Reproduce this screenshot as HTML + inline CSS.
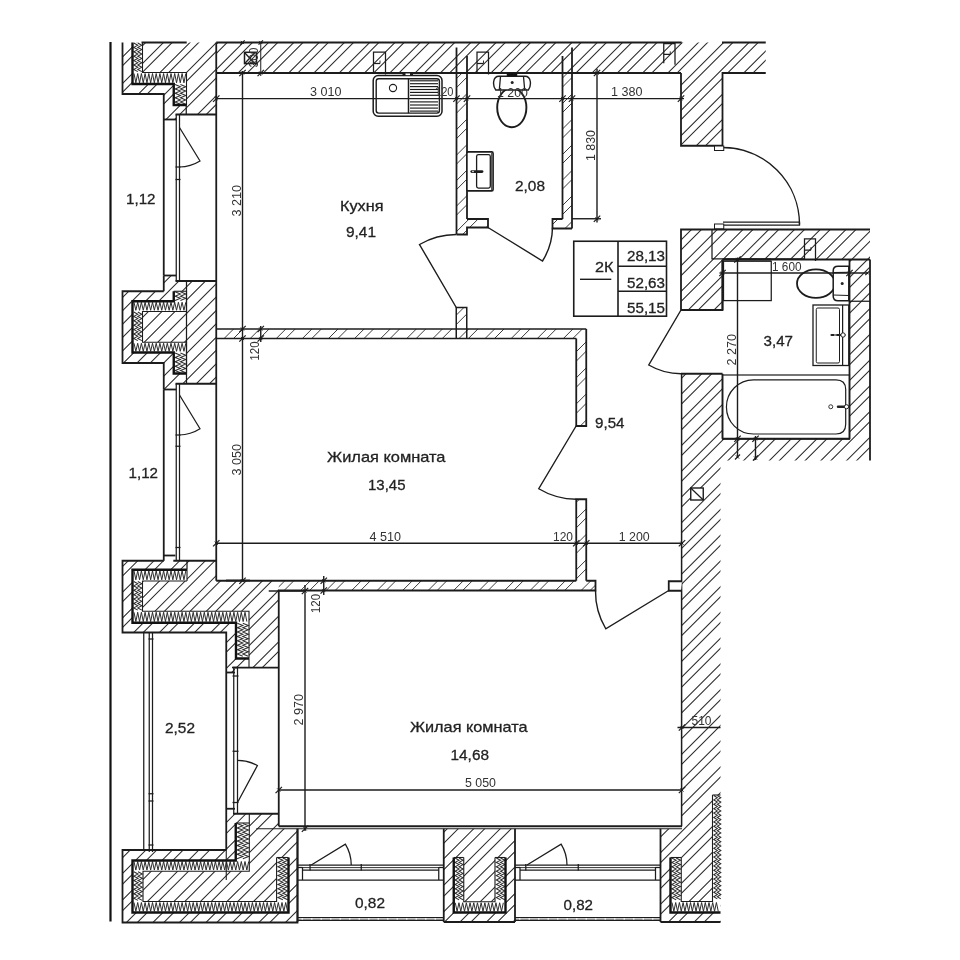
<!DOCTYPE html>
<html lang="ru"><head><meta charset="utf-8"><title>План квартиры</title>
<style>
html,body{margin:0;padding:0;background:#fff;}
body{width:960px;height:960px;overflow:hidden;font-family:"Liberation Sans",sans-serif;}
svg{display:block;font-family:"Liberation Sans",sans-serif;filter:grayscale(1);}
</style></head><body>
<svg width="960" height="960" viewBox="0 0 960 960">
<defs>
<clipPath id="c1"><polygon points="122.5,42.5 216.25,42.5 216.25,114.5 176,114.5 176,119.5 163.75,119.5 163.75,94 122.5,94"/></clipPath>
<clipPath id="c2"><polygon points="122.5,291.25 163.75,291.25 163.75,275.5 176,275.5 176,281 216.25,281 216.25,383.75 176,383.75 176,389.5 163.75,389.5 163.75,363 122.5,363"/></clipPath>
<clipPath id="c3"><polygon points="122.5,560.75 216.25,560.75 216.25,580.75 278.75,580.75 278.75,668 235,668 235,672.5 226.25,672.5 226.25,632.5 122.5,632.5"/></clipPath>
<clipPath id="c4"><polygon points="122.5,850 226.25,850 226.25,808.75 235,808.75 235,813.75 278.75,813.75 278.75,828.75 297.5,828.75 297.5,922.5 122.5,922.5"/></clipPath>
<clipPath id="c5"><polygon points="443.75,828.75 515,828.75 515,922 443.75,922"/></clipPath>
<clipPath id="c6"><polygon points="681,229.5 870,229.5 870,460.5 720.5,460.5 720.5,922 660.5,922 660.5,828.75 682,828.75 682,373.75 722.5,373.75 722.5,438.75 849.5,438.75 849.5,259.5 722.5,259.5 722.5,310 681,310"/></clipPath>
<clipPath id="c7"><polygon points="216.25,42.5 765.75,42.5 765.75,73 722.5,73 722.5,145.75 681,145.75 681,73 216.25,73"/></clipPath>
<clipPath id="c8"><polygon points="456.5,73 467,73 467,219 488,219 488,227.5 467,227.5 467,234.5 456.5,234.5"/></clipPath>
<clipPath id="c9"><polygon points="562.5,73 572,73 572,228.5 552.5,228.5 552.5,219 562.5,219"/></clipPath>
<clipPath id="c10"><polygon points="216.25,329 586.25,329 586.25,426 576.25,426 576.25,338.5 216.25,338.5"/></clipPath>
<clipPath id="c11"><polygon points="456.25,307.5 466.75,307.5 466.75,329 456.25,329"/></clipPath>
<clipPath id="c12"><polygon points="576.25,499.25 586.25,499.25 586.25,580.75 595.5,580.75 595.5,590.5 278.75,590.5 278.75,580.75 576.25,580.75"/></clipPath>
</defs>
<rect x="0" y="0" width="960" height="960" fill="#fff"/>
<path clip-path="url(#c1)" d="M59 120.5L138 41.5M67.7 120.5L146.7 41.5M85.5 120.5L164.5 41.5M94.2 120.5L173.2 41.5M112 120.5L191 41.5M120.7 120.5L199.7 41.5M138.5 120.5L217.5 41.5M147.2 120.5L226.2 41.5M165 120.5L244 41.5M173.7 120.5L252.7 41.5M191.5 120.5L270.5 41.5M200.2 120.5L279.2 41.5" fill="none" stroke="#2a2a2a" stroke-width="1.05"/>
<path clip-path="url(#c2)" d="M16.05 390.5L132.05 274.5M29.55 390.5L145.55 274.5M42.72 390.5L158.72 274.5M56.22 390.5L172.22 274.5M69.39 390.5L185.39 274.5M82.89 390.5L198.89 274.5M96.06 390.5L212.06 274.5M109.56 390.5L225.56 274.5M122.73 390.5L238.73 274.5M136.23 390.5L252.23 274.5M149.4 390.5L265.4 274.5M162.9 390.5L278.9 274.5M176.07 390.5L292.07 274.5M189.57 390.5L305.57 274.5M202.74 390.5L318.74 274.5" fill="none" stroke="#2a2a2a" stroke-width="1.05"/>
<path clip-path="url(#c3)" d="M15.6 673.5L129.35 559.75M25.1 673.5L138.85 559.75M41.3 673.5L155.05 559.75M50.8 673.5L164.55 559.75M67 673.5L180.75 559.75M76.5 673.5L190.25 559.75M92.7 673.5L206.45 559.75M102.2 673.5L215.95 559.75M118.4 673.5L232.15 559.75M127.9 673.5L241.65 559.75M144.1 673.5L257.85 559.75M153.6 673.5L267.35 559.75M169.8 673.5L283.55 559.75M179.3 673.5L293.05 559.75M195.5 673.5L309.25 559.75M205 673.5L318.75 559.75M221.2 673.5L334.95 559.75M230.7 673.5L344.45 559.75M246.9 673.5L360.65 559.75M256.4 673.5L370.15 559.75M272.6 673.5L386.35 559.75" fill="none" stroke="#2a2a2a" stroke-width="1.05"/>
<path clip-path="url(#c4)" d="M19.4 923.5L135.15 807.75M30.3 923.5L146.05 807.75M45.9 923.5L161.65 807.75M56.8 923.5L172.55 807.75M72.4 923.5L188.15 807.75M83.3 923.5L199.05 807.75M98.9 923.5L214.65 807.75M109.8 923.5L225.55 807.75M125.4 923.5L241.15 807.75M136.3 923.5L252.05 807.75M151.9 923.5L267.65 807.75M162.8 923.5L278.55 807.75M178.4 923.5L294.15 807.75M189.3 923.5L305.05 807.75M204.9 923.5L320.65 807.75M215.8 923.5L331.55 807.75M231.4 923.5L347.15 807.75M242.3 923.5L358.05 807.75M257.9 923.5L373.65 807.75M268.8 923.5L384.55 807.75M284.4 923.5L400.15 807.75M295.3 923.5L411.05 807.75" fill="none" stroke="#2a2a2a" stroke-width="1.05"/>
<path clip-path="url(#c5)" d="M353 923L448.25 827.75M364 923L459.25 827.75M379.5 923L474.75 827.75M390.5 923L485.75 827.75M406 923L501.25 827.75M417 923L512.25 827.75M432.5 923L527.75 827.75M443.5 923L538.75 827.75M459 923L554.25 827.75M470 923L565.25 827.75M485.5 923L580.75 827.75M496.5 923L591.75 827.75M512 923L607.25 827.75" fill="none" stroke="#2a2a2a" stroke-width="1.05"/>
<path clip-path="url(#c6)" d="M-27.75 923L666.75 228.5M-17.75 923L676.75 228.5M-2 923L692.5 228.5M8 923L702.5 228.5M23.75 923L718.25 228.5M33.75 923L728.25 228.5M49.5 923L744 228.5M59.5 923L754 228.5M75.25 923L769.75 228.5M85.25 923L779.75 228.5M101 923L795.5 228.5M111 923L805.5 228.5M126.75 923L821.25 228.5M136.75 923L831.25 228.5M152.5 923L847 228.5M162.5 923L857 228.5M178.25 923L872.75 228.5M188.25 923L882.75 228.5M204 923L898.5 228.5M214 923L908.5 228.5M229.75 923L924.25 228.5M239.75 923L934.25 228.5M255.5 923L950 228.5M265.5 923L960 228.5M281.25 923L975.75 228.5M291.25 923L985.75 228.5M307 923L1001.5 228.5M317 923L1011.5 228.5M332.75 923L1027.25 228.5M342.75 923L1037.25 228.5M358.5 923L1053 228.5M368.5 923L1063 228.5M384.25 923L1078.75 228.5M394.25 923L1088.75 228.5M410 923L1104.5 228.5M420 923L1114.5 228.5M435.75 923L1130.25 228.5M445.75 923L1140.25 228.5M461.5 923L1156 228.5M471.5 923L1166 228.5M487.25 923L1181.75 228.5M497.25 923L1191.75 228.5M513 923L1207.5 228.5M523 923L1217.5 228.5M538.75 923L1233.25 228.5M548.75 923L1243.25 228.5M564.5 923L1259 228.5M574.5 923L1269 228.5M590.25 923L1284.75 228.5M600.25 923L1294.75 228.5M616 923L1310.5 228.5M626 923L1320.5 228.5M641.75 923L1336.25 228.5M651.75 923L1346.25 228.5M667.5 923L1362 228.5M677.5 923L1372 228.5M693.25 923L1387.75 228.5M703.25 923L1397.75 228.5M719 923L1413.5 228.5M729 923L1423.5 228.5M744.75 923L1439.25 228.5M754.75 923L1449.25 228.5M770.5 923L1465 228.5M780.5 923L1475 228.5M796.25 923L1490.75 228.5M806.25 923L1500.75 228.5M822 923L1516.5 228.5M832 923L1526.5 228.5M847.75 923L1542.25 228.5M857.75 923L1552.25 228.5" fill="none" stroke="#2a2a2a" stroke-width="1.05"/>
<path clip-path="url(#c7)" d="M113.72 146.75L218.97 41.5M122.92 146.75L228.17 41.5M139 146.75L244.25 41.5M148.2 146.75L253.45 41.5M164.29 146.75L269.54 41.5M173.49 146.75L278.74 41.5M189.57 146.75L294.82 41.5M198.77 146.75L304.02 41.5M214.86 146.75L320.11 41.5M224.06 146.75L329.31 41.5M240.14 146.75L345.39 41.5M249.34 146.75L354.59 41.5M265.43 146.75L370.68 41.5M274.63 146.75L379.88 41.5M290.72 146.75L395.97 41.5M299.92 146.75L405.17 41.5M316 146.75L421.25 41.5M325.2 146.75L430.45 41.5M341.29 146.75L446.54 41.5M350.49 146.75L455.74 41.5M366.57 146.75L471.82 41.5M375.77 146.75L481.02 41.5M391.86 146.75L497.11 41.5M401.06 146.75L506.31 41.5M417.14 146.75L522.39 41.5M426.34 146.75L531.59 41.5M442.42 146.75L547.67 41.5M451.62 146.75L556.88 41.5M467.71 146.75L572.96 41.5M476.91 146.75L582.16 41.5M493 146.75L598.25 41.5M502.2 146.75L607.45 41.5M518.28 146.75L623.53 41.5M527.48 146.75L632.73 41.5M543.57 146.75L648.82 41.5M552.77 146.75L658.02 41.5M568.85 146.75L674.1 41.5M578.05 146.75L683.3 41.5M594.13 146.75L699.38 41.5M603.34 146.75L708.59 41.5M619.42 146.75L724.67 41.5M628.62 146.75L733.87 41.5M644.71 146.75L749.96 41.5M653.91 146.75L759.16 41.5M669.99 146.75L775.24 41.5M679.19 146.75L784.44 41.5M695.27 146.75L800.52 41.5M704.48 146.75L809.73 41.5M720.56 146.75L825.81 41.5M729.76 146.75L835.01 41.5M745.85 146.75L851.1 41.5M755.05 146.75L860.3 41.5" fill="none" stroke="#2a2a2a" stroke-width="1.05"/>
<path clip-path="url(#c8)" d="M299.6 235.5L463.1 72M308.6 235.5L472.1 72M325.1 235.5L488.6 72M334.1 235.5L497.6 72M350.6 235.5L514.1 72M359.6 235.5L523.1 72M376.1 235.5L539.6 72M385.1 235.5L548.6 72M401.6 235.5L565.1 72M410.6 235.5L574.1 72M427.1 235.5L590.6 72M436.1 235.5L599.6 72M452.6 235.5L616.1 72M461.6 235.5L625.1 72M478.1 235.5L641.6 72" fill="none" stroke="#333" stroke-width="0.95"/>
<path clip-path="url(#c9)" d="M411 229.5L568.5 72M420 229.5L577.5 72M436.5 229.5L594 72M445.5 229.5L603 72M462 229.5L619.5 72M471 229.5L628.5 72M487.5 229.5L645 72M496.5 229.5L654 72M513 229.5L670.5 72M522 229.5L679.5 72M538.5 229.5L696 72M547.5 229.5L705 72M564 229.5L721.5 72" fill="none" stroke="#333" stroke-width="0.95"/>
<path clip-path="url(#c10)" d="M118.9 427L217.9 328M135.6 427L234.6 328M145 427L244 328M161.7 427L260.7 328M171.1 427L270.1 328M187.8 427L286.8 328M197.2 427L296.2 328M213.9 427L312.9 328M223.3 427L322.3 328M240 427L339 328M249.4 427L348.4 328M266.1 427L365.1 328M275.5 427L374.5 328M292.2 427L391.2 328M301.6 427L400.6 328M318.3 427L417.3 328M327.7 427L426.7 328M344.4 427L443.4 328M353.8 427L452.8 328M370.5 427L469.5 328M379.9 427L478.9 328M396.6 427L495.6 328M406 427L505 328M422.7 427L521.7 328M432.1 427L531.1 328M448.8 427L547.8 328M458.2 427L557.2 328M474.9 427L573.9 328M484.3 427L583.3 328M501 427L600 328M510.4 427L609.4 328M527.1 427L626.1 328M536.5 427L635.5 328M553.2 427L652.2 328M562.6 427L661.6 328M579.3 427L678.3 328" fill="none" stroke="#333" stroke-width="0.95"/>
<path clip-path="url(#c11)" d="M441.4 330L464.9 306.5M450.8 330L474.3 306.5" fill="none" stroke="#333" stroke-width="0.95"/>
<path clip-path="url(#c12)" d="M197.6 591.5L290.85 498.25M206.6 591.5L299.85 498.25M223.1 591.5L316.35 498.25M232.1 591.5L325.35 498.25M248.6 591.5L341.85 498.25M257.6 591.5L350.85 498.25M274.1 591.5L367.35 498.25M283.1 591.5L376.35 498.25M299.6 591.5L392.85 498.25M308.6 591.5L401.85 498.25M325.1 591.5L418.35 498.25M334.1 591.5L427.35 498.25M350.6 591.5L443.85 498.25M359.6 591.5L452.85 498.25M376.1 591.5L469.35 498.25M385.1 591.5L478.35 498.25M401.6 591.5L494.85 498.25M410.6 591.5L503.85 498.25M427.1 591.5L520.35 498.25M436.1 591.5L529.35 498.25M452.6 591.5L545.85 498.25M461.6 591.5L554.85 498.25M478.1 591.5L571.35 498.25M487.1 591.5L580.35 498.25M503.6 591.5L596.85 498.25M512.6 591.5L605.85 498.25M529.1 591.5L622.35 498.25M538.1 591.5L631.35 498.25M554.6 591.5L647.85 498.25M563.6 591.5L656.85 498.25M580.1 591.5L673.35 498.25M589.1 591.5L682.35 498.25" fill="none" stroke="#333" stroke-width="0.95"/>
<polygon points="132.5,42.5 132.5,84 173.75,84 173.75,105 186.5,105 186.5,105 186.5,72.5 142.5,72.5 142.5,42.5" fill="#fff" stroke="none" stroke-width="0" stroke-linejoin="miter"/>
<polyline points="134,73.5 135.85,82.8 137.7,73.5 139.55,82.8 141.4,73.5 143.25,82.8 145.1,73.5 146.95,82.8 148.8,73.5 150.65,82.8 152.5,73.5 154.35,82.8 156.2,73.5 158.05,82.8 159.9,73.5 161.75,82.8 163.6,73.5 165.45,82.8 167.3,73.5 169.15,82.8 171,73.5 172.85,82.8 174.7,73.5 176.55,82.8 178.4,73.5 180.25,82.8 182.1,73.5 183.95,82.8 185.8,73.5" fill="none" stroke="#2e2e2e" stroke-width="1" stroke-linejoin="miter"/>
<polyline points="133.8,43 137.8,45.2 133.8,47.4 137.8,49.6 133.8,51.8 137.8,54 133.8,56.2 137.8,58.4 133.8,60.6 137.8,62.8 133.8,65 137.8,67.2 133.8,69.4 137.8,71.6" fill="none" stroke="#2e2e2e" stroke-width="1.05" stroke-linejoin="miter"/>
<polyline points="137.8,43 141.8,45.2 137.8,47.4 141.8,49.6 137.8,51.8 141.8,54 137.8,56.2 141.8,58.4 137.8,60.6 141.8,62.8 137.8,65 141.8,67.2 137.8,69.4 141.8,71.6" fill="none" stroke="#2e2e2e" stroke-width="1.05" stroke-linejoin="miter"/>
<polyline points="175.05,84.5 180.43,86.7 175.05,88.9 180.43,91.1 175.05,93.3 180.43,95.5 175.05,97.7 180.43,99.9 175.05,102.1 180.43,104.3" fill="none" stroke="#2e2e2e" stroke-width="1.05" stroke-linejoin="miter"/>
<polyline points="180.43,84.5 185.8,86.7 180.43,88.9 185.8,91.1 180.43,93.3 185.8,95.5 180.43,97.7 185.8,99.9 180.43,102.1 185.8,104.3" fill="none" stroke="#2e2e2e" stroke-width="1.05" stroke-linejoin="miter"/>
<polyline points="142.5,42.5 142.5,72.5 186.5,72.5 186.5,105" fill="none" stroke="#1c1c1c" stroke-width="1.1" stroke-linejoin="miter"/>
<polyline points="132.5,42.5 132.5,84 173.75,84 173.75,105 186.5,105" fill="none" stroke="#111" stroke-width="2.4" stroke-linejoin="miter"/>
<polygon points="173.75,291.25 173.75,301.25 132.5,301.25 132.5,352.5 173.75,352.5 173.75,373.5 186.5,373.5 186.5,373.5 186.5,342.25 142.5,342.25 142.5,311.5 186.5,311.5 186.5,291.25" fill="#fff" stroke="none" stroke-width="0" stroke-linejoin="miter"/>
<polyline points="134,302.25 135.85,310.3 137.7,302.25 139.55,310.3 141.4,302.25 143.25,310.3 145.1,302.25 146.95,310.3 148.8,302.25 150.65,310.3 152.5,302.25 154.35,310.3 156.2,302.25 158.05,310.3 159.9,302.25 161.75,310.3 163.6,302.25 165.45,310.3 167.3,302.25 169.15,310.3 171,302.25 172.85,310.3 174.7,302.25 176.55,310.3 178.4,302.25 180.25,310.3 182.1,302.25 183.95,310.3 185.8,302.25" fill="none" stroke="#2e2e2e" stroke-width="1" stroke-linejoin="miter"/>
<polyline points="134,343.25 135.85,351.3 137.7,343.25 139.55,351.3 141.4,343.25 143.25,351.3 145.1,343.25 146.95,351.3 148.8,343.25 150.65,351.3 152.5,343.25 154.35,351.3 156.2,343.25 158.05,351.3 159.9,343.25 161.75,351.3 163.6,343.25 165.45,351.3 167.3,343.25 169.15,351.3 171,343.25 172.85,351.3 174.7,343.25 176.55,351.3 178.4,343.25 180.25,351.3 182.1,343.25 183.95,351.3 185.8,343.25" fill="none" stroke="#2e2e2e" stroke-width="1" stroke-linejoin="miter"/>
<polyline points="175.05,291.75 180.43,293.95 175.05,296.15 180.43,298.35 175.05,300.55" fill="none" stroke="#2e2e2e" stroke-width="1.05" stroke-linejoin="miter"/>
<polyline points="180.43,291.75 185.8,293.95 180.43,296.15 185.8,298.35 180.43,300.55" fill="none" stroke="#2e2e2e" stroke-width="1.05" stroke-linejoin="miter"/>
<polyline points="133.8,312 137.8,314.2 133.8,316.4 137.8,318.6 133.8,320.8 137.8,323 133.8,325.2 137.8,327.4 133.8,329.6 137.8,331.8 133.8,334 137.8,336.2 133.8,338.4 137.8,340.6" fill="none" stroke="#2e2e2e" stroke-width="1.05" stroke-linejoin="miter"/>
<polyline points="137.8,312 141.8,314.2 137.8,316.4 141.8,318.6 137.8,320.8 141.8,323 137.8,325.2 141.8,327.4 137.8,329.6 141.8,331.8 137.8,334 141.8,336.2 137.8,338.4 141.8,340.6" fill="none" stroke="#2e2e2e" stroke-width="1.05" stroke-linejoin="miter"/>
<polyline points="175.05,353 180.43,355.2 175.05,357.4 180.43,359.6 175.05,361.8 180.43,364 175.05,366.2 180.43,368.4 175.05,370.6 180.43,372.8" fill="none" stroke="#2e2e2e" stroke-width="1.05" stroke-linejoin="miter"/>
<polyline points="180.43,353 185.8,355.2 180.43,357.4 185.8,359.6 180.43,361.8 185.8,364 180.43,366.2 185.8,368.4 180.43,370.6 185.8,372.8" fill="none" stroke="#2e2e2e" stroke-width="1.05" stroke-linejoin="miter"/>
<polyline points="186.5,291.25 186.5,311.5 142.5,311.5 142.5,342.25 186.5,342.25 186.5,373.5" fill="none" stroke="#1c1c1c" stroke-width="1.1" stroke-linejoin="miter"/>
<polyline points="173.75,291.25 173.75,301.25 132.5,301.25 132.5,352.5 173.75,352.5 173.75,373.5 186.5,373.5" fill="none" stroke="#111" stroke-width="2.4" stroke-linejoin="miter"/>
<line x1="173.75" y1="291.25" x2="186.5" y2="291.25" stroke="#1c1c1c" stroke-width="1.1" stroke-linecap="butt"/>
<polygon points="187,569.75 132.5,569.75 132.5,622.75 236,622.75 236,658.5 249,658.5 249,658.5 249,611.25 142.5,611.25 142.5,581 187,581" fill="#fff" stroke="none" stroke-width="0" stroke-linejoin="miter"/>
<polyline points="134,570.75 135.85,579.8 137.7,570.75 139.55,579.8 141.4,570.75 143.25,579.8 145.1,570.75 146.95,579.8 148.8,570.75 150.65,579.8 152.5,570.75 154.35,579.8 156.2,570.75 158.05,579.8 159.9,570.75 161.75,579.8 163.6,570.75 165.45,579.8 167.3,570.75 169.15,579.8 171,570.75 172.85,579.8 174.7,570.75 176.55,579.8 178.4,570.75 180.25,579.8 182.1,570.75 183.95,579.8 185.8,570.75" fill="none" stroke="#2e2e2e" stroke-width="1" stroke-linejoin="miter"/>
<polyline points="134,612.25 135.85,621.55 137.7,612.25 139.55,621.55 141.4,612.25 143.25,621.55 145.1,612.25 146.95,621.55 148.8,612.25 150.65,621.55 152.5,612.25 154.35,621.55 156.2,612.25 158.05,621.55 159.9,612.25 161.75,621.55 163.6,612.25 165.45,621.55 167.3,612.25 169.15,621.55 171,612.25 172.85,621.55 174.7,612.25 176.55,621.55 178.4,612.25 180.25,621.55 182.1,612.25 183.95,621.55 185.8,612.25 187.65,621.55 189.5,612.25 191.35,621.55 193.2,612.25 195.05,621.55 196.9,612.25 198.75,621.55 200.6,612.25 202.45,621.55 204.3,612.25 206.15,621.55 208,612.25 209.85,621.55 211.7,612.25 213.55,621.55 215.4,612.25 217.25,621.55 219.1,612.25 220.95,621.55 222.8,612.25 224.65,621.55 226.5,612.25 228.35,621.55 230.2,612.25 232.05,621.55 233.9,612.25 235.75,621.55 237.6,612.25 239.45,621.55 241.3,612.25 243.15,621.55 245,612.25 246.85,621.55" fill="none" stroke="#2e2e2e" stroke-width="1" stroke-linejoin="miter"/>
<polyline points="133.8,581.5 137.8,583.7 133.8,585.9 137.8,588.1 133.8,590.3 137.8,592.5 133.8,594.7 137.8,596.9 133.8,599.1 137.8,601.3 133.8,603.5 137.8,605.7 133.8,607.9 137.8,610.1" fill="none" stroke="#2e2e2e" stroke-width="1.05" stroke-linejoin="miter"/>
<polyline points="137.8,581.5 141.8,583.7 137.8,585.9 141.8,588.1 137.8,590.3 141.8,592.5 137.8,594.7 141.8,596.9 137.8,599.1 141.8,601.3 137.8,603.5 141.8,605.7 137.8,607.9 141.8,610.1" fill="none" stroke="#2e2e2e" stroke-width="1.05" stroke-linejoin="miter"/>
<polyline points="237.3,623.25 242.8,625.45 237.3,627.65 242.8,629.85 237.3,632.05 242.8,634.25 237.3,636.45 242.8,638.65 237.3,640.85 242.8,643.05 237.3,645.25 242.8,647.45 237.3,649.65 242.8,651.85 237.3,654.05 242.8,656.25" fill="none" stroke="#2e2e2e" stroke-width="1.05" stroke-linejoin="miter"/>
<polyline points="242.8,623.25 248.3,625.45 242.8,627.65 248.3,629.85 242.8,632.05 248.3,634.25 242.8,636.45 248.3,638.65 242.8,640.85 248.3,643.05 242.8,645.25 248.3,647.45 242.8,649.65 248.3,651.85 242.8,654.05 248.3,656.25" fill="none" stroke="#2e2e2e" stroke-width="1.05" stroke-linejoin="miter"/>
<polyline points="187,581 142.5,581 142.5,611.25 249,611.25 249,658.5" fill="none" stroke="#1c1c1c" stroke-width="1.1" stroke-linejoin="miter"/>
<polyline points="187,569.75 132.5,569.75 132.5,622.75 236,622.75 236,658.5 249,658.5" fill="none" stroke="#111" stroke-width="2.4" stroke-linejoin="miter"/>
<line x1="187" y1="569.75" x2="187" y2="581" stroke="#1c1c1c" stroke-width="1.1" stroke-linecap="butt"/>
<polygon points="235.75,823 235.75,860.5 132.5,860.5 132.5,912.5 288.5,912.5 288.5,857.5 276.6,857.5 276.6,901.5 143,901.5 143,871.25 249.3,871.25 249.3,823" fill="#fff" stroke="none" stroke-width="0" stroke-linejoin="miter"/>
<polyline points="134,861.5 135.85,870.05 137.7,861.5 139.55,870.05 141.4,861.5 143.25,870.05 145.1,861.5 146.95,870.05 148.8,861.5 150.65,870.05 152.5,861.5 154.35,870.05 156.2,861.5 158.05,870.05 159.9,861.5 161.75,870.05 163.6,861.5 165.45,870.05 167.3,861.5 169.15,870.05 171,861.5 172.85,870.05 174.7,861.5 176.55,870.05 178.4,861.5 180.25,870.05 182.1,861.5 183.95,870.05 185.8,861.5 187.65,870.05 189.5,861.5 191.35,870.05 193.2,861.5 195.05,870.05 196.9,861.5 198.75,870.05 200.6,861.5 202.45,870.05 204.3,861.5 206.15,870.05 208,861.5 209.85,870.05 211.7,861.5 213.55,870.05 215.4,861.5 217.25,870.05 219.1,861.5 220.95,870.05 222.8,861.5 224.65,870.05 226.5,861.5 228.35,870.05 230.2,861.5 232.05,870.05 233.9,861.5 235.75,870.05 237.6,861.5 239.45,870.05 241.3,861.5 243.15,870.05 245,861.5 246.85,870.05 248.7,861.5" fill="none" stroke="#2e2e2e" stroke-width="1" stroke-linejoin="miter"/>
<polyline points="134,902.5 135.85,911.3 137.7,902.5 139.55,911.3 141.4,902.5 143.25,911.3 145.1,902.5 146.95,911.3 148.8,902.5 150.65,911.3 152.5,902.5 154.35,911.3 156.2,902.5 158.05,911.3 159.9,902.5 161.75,911.3 163.6,902.5 165.45,911.3 167.3,902.5 169.15,911.3 171,902.5 172.85,911.3 174.7,902.5 176.55,911.3 178.4,902.5 180.25,911.3 182.1,902.5 183.95,911.3 185.8,902.5 187.65,911.3 189.5,902.5 191.35,911.3 193.2,902.5 195.05,911.3 196.9,902.5 198.75,911.3 200.6,902.5 202.45,911.3 204.3,902.5 206.15,911.3 208,902.5 209.85,911.3 211.7,902.5 213.55,911.3 215.4,902.5 217.25,911.3 219.1,902.5 220.95,911.3 222.8,902.5 224.65,911.3 226.5,902.5 228.35,911.3 230.2,902.5 232.05,911.3 233.9,902.5 235.75,911.3 237.6,902.5 239.45,911.3 241.3,902.5 243.15,911.3 245,902.5 246.85,911.3 248.7,902.5 250.55,911.3 252.4,902.5 254.25,911.3 256.1,902.5 257.95,911.3 259.8,902.5 261.65,911.3 263.5,902.5 265.35,911.3 267.2,902.5 269.05,911.3 270.9,902.5 272.75,911.3 274.6,902.5 276.45,911.3 278.3,902.5 280.15,911.3 282,902.5 283.85,911.3 285.7,902.5 287.55,911.3" fill="none" stroke="#2e2e2e" stroke-width="1" stroke-linejoin="miter"/>
<polyline points="237.05,823.5 242.83,825.7 237.05,827.9 242.83,830.1 237.05,832.3 242.83,834.5 237.05,836.7 242.83,838.9 237.05,841.1 242.83,843.3 237.05,845.5 242.83,847.7 237.05,849.9 242.83,852.1 237.05,854.3 242.83,856.5 237.05,858.7" fill="none" stroke="#2e2e2e" stroke-width="1.05" stroke-linejoin="miter"/>
<polyline points="242.83,823.5 248.6,825.7 242.83,827.9 248.6,830.1 242.83,832.3 248.6,834.5 242.83,836.7 248.6,838.9 242.83,841.1 248.6,843.3 242.83,845.5 248.6,847.7 242.83,849.9 248.6,852.1 242.83,854.3 248.6,856.5 242.83,858.7" fill="none" stroke="#2e2e2e" stroke-width="1.05" stroke-linejoin="miter"/>
<polyline points="133.8,871.75 138.05,873.95 133.8,876.15 138.05,878.35 133.8,880.55 138.05,882.75 133.8,884.95 138.05,887.15 133.8,889.35 138.05,891.55 133.8,893.75 138.05,895.95 133.8,898.15 138.05,900.35" fill="none" stroke="#2e2e2e" stroke-width="1.05" stroke-linejoin="miter"/>
<polyline points="138.05,871.75 142.3,873.95 138.05,876.15 142.3,878.35 138.05,880.55 142.3,882.75 138.05,884.95 142.3,887.15 138.05,889.35 142.3,891.55 138.05,893.75 142.3,895.95 138.05,898.15 142.3,900.35" fill="none" stroke="#2e2e2e" stroke-width="1.05" stroke-linejoin="miter"/>
<polyline points="277.9,858 282.85,860.2 277.9,862.4 282.85,864.6 277.9,866.8 282.85,869 277.9,871.2 282.85,873.4 277.9,875.6 282.85,877.8 277.9,880 282.85,882.2 277.9,884.4 282.85,886.6 277.9,888.8 282.85,891 277.9,893.2 282.85,895.4 277.9,897.6 282.85,899.8" fill="none" stroke="#2e2e2e" stroke-width="1.05" stroke-linejoin="miter"/>
<polyline points="282.85,858 287.8,860.2 282.85,862.4 287.8,864.6 282.85,866.8 287.8,869 282.85,871.2 287.8,873.4 282.85,875.6 287.8,877.8 282.85,880 287.8,882.2 282.85,884.4 287.8,886.6 282.85,888.8 287.8,891 282.85,893.2 287.8,895.4 282.85,897.6 287.8,899.8" fill="none" stroke="#2e2e2e" stroke-width="1.05" stroke-linejoin="miter"/>
<polyline points="249.3,823 249.3,871.25 143,871.25 143,901.5 276.6,901.5 276.6,857.5" fill="none" stroke="#1c1c1c" stroke-width="1.1" stroke-linejoin="miter"/>
<polyline points="235.75,823 235.75,860.5 132.5,860.5 132.5,912.5 288.5,912.5 288.5,857.5" fill="none" stroke="#111" stroke-width="2.4" stroke-linejoin="miter"/>
<line x1="235.75" y1="823" x2="249.3" y2="823" stroke="#1c1c1c" stroke-width="1.1" stroke-linecap="butt"/>
<line x1="276.6" y1="857.5" x2="288.5" y2="857.5" stroke="#1c1c1c" stroke-width="1.1" stroke-linecap="butt"/>
<polygon points="453.75,857.5 453.75,912.5 505.5,912.5 505.5,857.5 495,857.5 495,901.75 463.75,901.75 463.75,857.5" fill="#fff" stroke="none" stroke-width="0" stroke-linejoin="miter"/>
<polyline points="455.25,902.75 457.1,911.3 458.95,902.75 460.8,911.3 462.65,902.75 464.5,911.3 466.35,902.75 468.2,911.3 470.05,902.75 471.9,911.3 473.75,902.75 475.6,911.3 477.45,902.75 479.3,911.3 481.15,902.75 483,911.3 484.85,902.75 486.7,911.3 488.55,902.75 490.4,911.3 492.25,902.75 494.1,911.3 495.95,902.75 497.8,911.3 499.65,902.75 501.5,911.3 503.35,902.75" fill="none" stroke="#2e2e2e" stroke-width="1" stroke-linejoin="miter"/>
<polyline points="455.05,858 459.05,860.2 455.05,862.4 459.05,864.6 455.05,866.8 459.05,869 455.05,871.2 459.05,873.4 455.05,875.6 459.05,877.8 455.05,880 459.05,882.2 455.05,884.4 459.05,886.6 455.05,888.8 459.05,891 455.05,893.2 459.05,895.4 455.05,897.6 459.05,899.8" fill="none" stroke="#2e2e2e" stroke-width="1.05" stroke-linejoin="miter"/>
<polyline points="459.05,858 463.05,860.2 459.05,862.4 463.05,864.6 459.05,866.8 463.05,869 459.05,871.2 463.05,873.4 459.05,875.6 463.05,877.8 459.05,880 463.05,882.2 459.05,884.4 463.05,886.6 459.05,888.8 463.05,891 459.05,893.2 463.05,895.4 459.05,897.6 463.05,899.8" fill="none" stroke="#2e2e2e" stroke-width="1.05" stroke-linejoin="miter"/>
<polyline points="496.3,858 500.55,860.2 496.3,862.4 500.55,864.6 496.3,866.8 500.55,869 496.3,871.2 500.55,873.4 496.3,875.6 500.55,877.8 496.3,880 500.55,882.2 496.3,884.4 500.55,886.6 496.3,888.8 500.55,891 496.3,893.2 500.55,895.4 496.3,897.6 500.55,899.8" fill="none" stroke="#2e2e2e" stroke-width="1.05" stroke-linejoin="miter"/>
<polyline points="500.55,858 504.8,860.2 500.55,862.4 504.8,864.6 500.55,866.8 504.8,869 500.55,871.2 504.8,873.4 500.55,875.6 504.8,877.8 500.55,880 504.8,882.2 500.55,884.4 504.8,886.6 500.55,888.8 504.8,891 500.55,893.2 504.8,895.4 500.55,897.6 504.8,899.8" fill="none" stroke="#2e2e2e" stroke-width="1.05" stroke-linejoin="miter"/>
<polyline points="463.75,857.5 463.75,901.75 495,901.75 495,857.5" fill="none" stroke="#1c1c1c" stroke-width="1.1" stroke-linejoin="miter"/>
<polyline points="453.75,857.5 453.75,912.5 505.5,912.5 505.5,857.5" fill="none" stroke="#111" stroke-width="2.4" stroke-linejoin="miter"/>
<line x1="453.75" y1="857.5" x2="463.75" y2="857.5" stroke="#1c1c1c" stroke-width="1.1" stroke-linecap="butt"/>
<line x1="495" y1="857.5" x2="505.5" y2="857.5" stroke="#1c1c1c" stroke-width="1.1" stroke-linecap="butt"/>
<polygon points="670.5,857.5 670.5,912.5 720.5,912.5 720.5,795 712.5,795 712.5,901.5 681.25,901.5 681.25,857.5" fill="#fff" stroke="none" stroke-width="0" stroke-linejoin="miter"/>
<polyline points="672,902.5 673.85,911.3 675.7,902.5 677.55,911.3 679.4,902.5 681.25,911.3 683.1,902.5 684.95,911.3 686.8,902.5 688.65,911.3 690.5,902.5 692.35,911.3 694.2,902.5 696.05,911.3 697.9,902.5 699.75,911.3 701.6,902.5 703.45,911.3 705.3,902.5 707.15,911.3 709,902.5 710.85,911.3 712.7,902.5 714.55,911.3 716.4,902.5 718.25,911.3" fill="none" stroke="#2e2e2e" stroke-width="1" stroke-linejoin="miter"/>
<polyline points="671.8,858 676.17,860.2 671.8,862.4 676.17,864.6 671.8,866.8 676.17,869 671.8,871.2 676.17,873.4 671.8,875.6 676.17,877.8 671.8,880 676.17,882.2 671.8,884.4 676.17,886.6 671.8,888.8 676.17,891 671.8,893.2 676.17,895.4 671.8,897.6 676.17,899.8" fill="none" stroke="#2e2e2e" stroke-width="1.05" stroke-linejoin="miter"/>
<polyline points="676.17,858 680.55,860.2 676.17,862.4 680.55,864.6 676.17,866.8 680.55,869 676.17,871.2 680.55,873.4 676.17,875.6 680.55,877.8 676.17,880 680.55,882.2 676.17,884.4 680.55,886.6 676.17,888.8 680.55,891 676.17,893.2 680.55,895.4 676.17,897.6 680.55,899.8" fill="none" stroke="#2e2e2e" stroke-width="1.05" stroke-linejoin="miter"/>
<polyline points="713.8,795.5 717.3,797.7 713.8,799.9 717.3,802.1 713.8,804.3 717.3,806.5 713.8,808.7 717.3,810.9 713.8,813.1 717.3,815.3 713.8,817.5 717.3,819.7 713.8,821.9 717.3,824.1 713.8,826.3 717.3,828.5 713.8,830.7 717.3,832.9 713.8,835.1 717.3,837.3 713.8,839.5 717.3,841.7 713.8,843.9 717.3,846.1 713.8,848.3 717.3,850.5 713.8,852.7 717.3,854.9 713.8,857.1 717.3,859.3 713.8,861.5 717.3,863.7 713.8,865.9 717.3,868.1 713.8,870.3 717.3,872.5 713.8,874.7 717.3,876.9 713.8,879.1 717.3,881.3 713.8,883.5 717.3,885.7 713.8,887.9 717.3,890.1 713.8,892.3 717.3,894.5 713.8,896.7 717.3,898.9" fill="none" stroke="#2e2e2e" stroke-width="1.05" stroke-linejoin="miter"/>
<polyline points="717.3,795.5 720.8,797.7 717.3,799.9 720.8,802.1 717.3,804.3 720.8,806.5 717.3,808.7 720.8,810.9 717.3,813.1 720.8,815.3 717.3,817.5 720.8,819.7 717.3,821.9 720.8,824.1 717.3,826.3 720.8,828.5 717.3,830.7 720.8,832.9 717.3,835.1 720.8,837.3 717.3,839.5 720.8,841.7 717.3,843.9 720.8,846.1 717.3,848.3 720.8,850.5 717.3,852.7 720.8,854.9 717.3,857.1 720.8,859.3 717.3,861.5 720.8,863.7 717.3,865.9 720.8,868.1 717.3,870.3 720.8,872.5 717.3,874.7 720.8,876.9 717.3,879.1 720.8,881.3 717.3,883.5 720.8,885.7 717.3,887.9 720.8,890.1 717.3,892.3 720.8,894.5 717.3,896.7 720.8,898.9" fill="none" stroke="#2e2e2e" stroke-width="1.05" stroke-linejoin="miter"/>
<polyline points="681.25,857.5 681.25,901.5 712.5,901.5 712.5,795" fill="none" stroke="#1c1c1c" stroke-width="1.1" stroke-linejoin="miter"/>
<polyline points="670.5,857.5 670.5,912.5 720.5,912.5" fill="none" stroke="#111" stroke-width="2.4" stroke-linejoin="miter"/>
<line x1="670.5" y1="857.5" x2="681.25" y2="857.5" stroke="#1c1c1c" stroke-width="1.1" stroke-linecap="butt"/>
<line x1="712.5" y1="795" x2="720.5" y2="795" stroke="#1c1c1c" stroke-width="1.1" stroke-linecap="butt"/>
<line x1="110.5" y1="42" x2="110.5" y2="921.5" stroke="#111" stroke-width="2.2" stroke-linecap="butt"/>
<line x1="141.5" y1="42.5" x2="186.7" y2="42.5" stroke="#1c1c1c" stroke-width="1.8" stroke-linecap="butt"/>
<line x1="216.25" y1="42.5" x2="681.7" y2="42.5" stroke="#1c1c1c" stroke-width="1.8" stroke-linecap="butt"/>
<line x1="722" y1="42.5" x2="765.75" y2="42.5" stroke="#1c1c1c" stroke-width="1.8" stroke-linecap="butt"/>
<polyline points="122.5,42.5 122.5,94 163.75,94 163.75,275.5" fill="none" stroke="#1c1c1c" stroke-width="1.8" stroke-linejoin="miter"/>
<line x1="163.75" y1="119.5" x2="176.25" y2="119.5" stroke="#1c1c1c" stroke-width="1.8" stroke-linecap="butt"/>
<line x1="175.5" y1="114.5" x2="216.8" y2="114.5" stroke="#1c1c1c" stroke-width="2" stroke-linecap="butt"/>
<line x1="186.25" y1="105" x2="186.25" y2="114.5" stroke="#1c1c1c" stroke-width="1.25" stroke-linecap="butt"/>
<line x1="216.25" y1="42.5" x2="216.25" y2="580.75" stroke="#1c1c1c" stroke-width="1.8" stroke-linecap="butt"/>
<line x1="176.25" y1="114.5" x2="176.25" y2="281" stroke="#1c1c1c" stroke-width="1.25" stroke-linecap="butt"/>
<line x1="179.5" y1="114.5" x2="179.5" y2="281" stroke="#1c1c1c" stroke-width="1.25" stroke-linecap="butt"/>
<line x1="163.75" y1="275.5" x2="176.25" y2="275.5" stroke="#1c1c1c" stroke-width="1.8" stroke-linecap="butt"/>
<line x1="175.5" y1="281" x2="216.8" y2="281" stroke="#1c1c1c" stroke-width="2" stroke-linecap="butt"/>
<path d="M179.5 127.5L200 161A39.5 39.5 0 0 1 179.5 167" fill="none" stroke="#1c1c1c" stroke-width="1.25"/>
<line x1="175.5" y1="167" x2="180.5" y2="167" stroke="#1c1c1c" stroke-width="1.25" stroke-linecap="butt"/>
<line x1="175.5" y1="179.5" x2="180.5" y2="179.5" stroke="#1c1c1c" stroke-width="1.25" stroke-linecap="butt"/>
<polyline points="163.75,291.25 122.5,291.25 122.5,363 163.75,363 163.75,389.5" fill="none" stroke="#1c1c1c" stroke-width="1.8" stroke-linejoin="miter"/>
<line x1="163.75" y1="275.5" x2="163.75" y2="291.25" stroke="#1c1c1c" stroke-width="1.8" stroke-linecap="butt"/>
<line x1="186.5" y1="281" x2="186.5" y2="383.75" stroke="#1c1c1c" stroke-width="1.25" stroke-linecap="butt"/>
<line x1="175.5" y1="383.75" x2="216.8" y2="383.75" stroke="#1c1c1c" stroke-width="2" stroke-linecap="butt"/>
<line x1="163.75" y1="389.5" x2="176.25" y2="389.5" stroke="#1c1c1c" stroke-width="1.8" stroke-linecap="butt"/>
<line x1="163.75" y1="389.5" x2="163.75" y2="560.75" stroke="#1c1c1c" stroke-width="1.8" stroke-linecap="butt"/>
<line x1="176.25" y1="383.75" x2="176.25" y2="560.75" stroke="#1c1c1c" stroke-width="1.25" stroke-linecap="butt"/>
<line x1="179.5" y1="383.75" x2="179.5" y2="560.75" stroke="#1c1c1c" stroke-width="1.25" stroke-linecap="butt"/>
<path d="M179.5 395L200 428.75A40 40 0 0 1 179.5 435" fill="none" stroke="#1c1c1c" stroke-width="1.25"/>
<line x1="175.5" y1="435" x2="180.5" y2="435" stroke="#1c1c1c" stroke-width="1.25" stroke-linecap="butt"/>
<line x1="175.5" y1="446.25" x2="180.5" y2="446.25" stroke="#1c1c1c" stroke-width="1.25" stroke-linecap="butt"/>
<line x1="175.5" y1="547.5" x2="180.5" y2="547.5" stroke="#1c1c1c" stroke-width="1.25" stroke-linecap="butt"/>
<line x1="163.75" y1="555.5" x2="175.4" y2="555.5" stroke="#1c1c1c" stroke-width="1.8" stroke-linecap="butt"/>
<polyline points="163.75,560.75 122.5,560.75 122.5,632.5 226.25,632.5 226.25,850" fill="none" stroke="#1c1c1c" stroke-width="1.8" stroke-linejoin="miter"/>
<line x1="173.3" y1="560.75" x2="216.25" y2="560.75" stroke="#1c1c1c" stroke-width="1.8" stroke-linecap="butt"/>
<line x1="187" y1="560.75" x2="187" y2="569.75" stroke="#1c1c1c" stroke-width="1.25" stroke-linecap="butt"/>
<line x1="216.25" y1="580.75" x2="576.25" y2="580.75" stroke="#1c1c1c" stroke-width="1.8" stroke-linecap="butt"/>
<polyline points="586.25,580.75 595.5,580.75 595.5,590.5 278.75,590.5 278.75,826.25" fill="none" stroke="#1c1c1c" stroke-width="1.8" stroke-linejoin="miter"/>
<line x1="233" y1="667.7" x2="278.75" y2="667.7" stroke="#1c1c1c" stroke-width="1.8" stroke-linecap="butt"/>
<line x1="249" y1="658.5" x2="249" y2="667.7" stroke="#1c1c1c" stroke-width="1.1" stroke-linecap="butt"/>
<line x1="226.25" y1="672.5" x2="235" y2="672.5" stroke="#1c1c1c" stroke-width="1.8" stroke-linecap="butt"/>
<line x1="232" y1="667.5" x2="238" y2="667.5" stroke="#1c1c1c" stroke-width="1.6" stroke-linecap="butt"/>
<line x1="143.75" y1="632.5" x2="143.75" y2="850" stroke="#1c1c1c" stroke-width="1.25" stroke-linecap="butt"/>
<line x1="149.25" y1="632.5" x2="149.25" y2="852" stroke="#1c1c1c" stroke-width="1.25" stroke-linecap="butt"/>
<line x1="152.5" y1="632.5" x2="152.5" y2="852" stroke="#1c1c1c" stroke-width="1.25" stroke-linecap="butt"/>
<line x1="148.5" y1="639" x2="153.5" y2="639" stroke="#1c1c1c" stroke-width="1.25" stroke-linecap="butt"/>
<line x1="148.5" y1="793.75" x2="153.5" y2="793.75" stroke="#1c1c1c" stroke-width="1.25" stroke-linecap="butt"/>
<line x1="148.5" y1="801" x2="153.5" y2="801" stroke="#1c1c1c" stroke-width="1.25" stroke-linecap="butt"/>
<line x1="148.5" y1="845" x2="153.5" y2="845" stroke="#1c1c1c" stroke-width="1.25" stroke-linecap="butt"/>
<line x1="233.75" y1="668" x2="233.75" y2="813.75" stroke="#1c1c1c" stroke-width="1.25" stroke-linecap="butt"/>
<line x1="237.5" y1="668" x2="237.5" y2="813.75" stroke="#1c1c1c" stroke-width="1.25" stroke-linecap="butt"/>
<line x1="232.5" y1="676" x2="238.5" y2="676" stroke="#1c1c1c" stroke-width="1.25" stroke-linecap="butt"/>
<line x1="232.5" y1="751.25" x2="238.5" y2="751.25" stroke="#1c1c1c" stroke-width="1.25" stroke-linecap="butt"/>
<line x1="232.5" y1="802.5" x2="238.5" y2="802.5" stroke="#1c1c1c" stroke-width="1.25" stroke-linecap="butt"/>
<path d="M237.5 802.5L257.4 765.5A42 42 0 0 0 237.5 760.5" fill="none" stroke="#1c1c1c" stroke-width="1.25"/>
<line x1="226.25" y1="808.75" x2="235" y2="808.75" stroke="#1c1c1c" stroke-width="1.8" stroke-linecap="butt"/>
<line x1="233" y1="813.75" x2="278.75" y2="813.75" stroke="#1c1c1c" stroke-width="1.8" stroke-linecap="butt"/>
<polyline points="226.25,850 122.5,850 122.5,922.5 297.5,922.5 297.5,828.75" fill="none" stroke="#1c1c1c" stroke-width="1.8" stroke-linejoin="miter"/>
<line x1="278.75" y1="826.25" x2="682" y2="826.25" stroke="#1c1c1c" stroke-width="1.8" stroke-linecap="butt"/>
<line x1="256.25" y1="828.75" x2="682" y2="828.75" stroke="#1c1c1c" stroke-width="1.1" stroke-linecap="butt"/>
<line x1="226.25" y1="850" x2="226.25" y2="880" stroke="#1c1c1c" stroke-width="1.1" stroke-linecap="butt"/>
<line x1="249.3" y1="813.75" x2="249.3" y2="823" stroke="#1c1c1c" stroke-width="1.1" stroke-linecap="butt"/>
<line x1="297.5" y1="828.75" x2="297.5" y2="922" stroke="#1c1c1c" stroke-width="1.8" stroke-linecap="butt"/>
<line x1="443.75" y1="828.75" x2="443.75" y2="922" stroke="#1c1c1c" stroke-width="1.8" stroke-linecap="butt"/>
<line x1="297.5" y1="865" x2="443.75" y2="865" stroke="#1c1c1c" stroke-width="1.25" stroke-linecap="butt"/>
<line x1="302.5" y1="867.6" x2="438.75" y2="867.6" stroke="#1c1c1c" stroke-width="0.9" stroke-linecap="butt"/>
<line x1="302.5" y1="870" x2="438.75" y2="870" stroke="#1c1c1c" stroke-width="1.25" stroke-linecap="butt"/>
<line x1="297.5" y1="880" x2="443.75" y2="880" stroke="#1c1c1c" stroke-width="1.25" stroke-linecap="butt"/>
<line x1="302.5" y1="867" x2="302.5" y2="880" stroke="#1c1c1c" stroke-width="1.25" stroke-linecap="butt"/>
<line x1="438.75" y1="867" x2="438.75" y2="880" stroke="#1c1c1c" stroke-width="1.25" stroke-linecap="butt"/>
<line x1="297.5" y1="867.5" x2="302.5" y2="867.5" stroke="#1c1c1c" stroke-width="1.25" stroke-linecap="butt"/>
<line x1="438.75" y1="867.5" x2="443.75" y2="867.5" stroke="#1c1c1c" stroke-width="1.25" stroke-linecap="butt"/>
<line x1="297.5" y1="917.5" x2="443.75" y2="917.5" stroke="#1c1c1c" stroke-width="1.25" stroke-linecap="butt"/>
<line x1="297.5" y1="920.2" x2="443.75" y2="920.2" stroke="#1c1c1c" stroke-width="1.4" stroke-linecap="butt"/>
<line x1="301.5" y1="918.8" x2="439.75" y2="918.8" stroke="#fff" stroke-width="1.2" stroke-dasharray="1.5 8"/>
<path d="M311.25 865L345.36 844.1A40 40 0 0 1 351.25 865" fill="none" stroke="#1c1c1c" stroke-width="1.25"/>
<line x1="310.05" y1="864" x2="310.05" y2="870.5" stroke="#1c1c1c" stroke-width="1.25" stroke-linecap="butt"/>
<line x1="361.25" y1="864" x2="361.25" y2="870.5" stroke="#1c1c1c" stroke-width="1.25" stroke-linecap="butt"/>
<line x1="515" y1="828.75" x2="515" y2="922" stroke="#1c1c1c" stroke-width="1.8" stroke-linecap="butt"/>
<line x1="660.5" y1="828.75" x2="660.5" y2="922" stroke="#1c1c1c" stroke-width="1.8" stroke-linecap="butt"/>
<line x1="515" y1="865" x2="660.5" y2="865" stroke="#1c1c1c" stroke-width="1.25" stroke-linecap="butt"/>
<line x1="520" y1="867.6" x2="655.5" y2="867.6" stroke="#1c1c1c" stroke-width="0.9" stroke-linecap="butt"/>
<line x1="520" y1="870" x2="655.5" y2="870" stroke="#1c1c1c" stroke-width="1.25" stroke-linecap="butt"/>
<line x1="515" y1="880" x2="660.5" y2="880" stroke="#1c1c1c" stroke-width="1.25" stroke-linecap="butt"/>
<line x1="520" y1="867" x2="520" y2="880" stroke="#1c1c1c" stroke-width="1.25" stroke-linecap="butt"/>
<line x1="655.5" y1="867" x2="655.5" y2="880" stroke="#1c1c1c" stroke-width="1.25" stroke-linecap="butt"/>
<line x1="515" y1="867.5" x2="520" y2="867.5" stroke="#1c1c1c" stroke-width="1.25" stroke-linecap="butt"/>
<line x1="655.5" y1="867.5" x2="660.5" y2="867.5" stroke="#1c1c1c" stroke-width="1.25" stroke-linecap="butt"/>
<line x1="515" y1="917.5" x2="660.5" y2="917.5" stroke="#1c1c1c" stroke-width="1.25" stroke-linecap="butt"/>
<line x1="515" y1="920.2" x2="660.5" y2="920.2" stroke="#1c1c1c" stroke-width="1.4" stroke-linecap="butt"/>
<line x1="519" y1="918.8" x2="656.5" y2="918.8" stroke="#fff" stroke-width="1.2" stroke-dasharray="1.5 8"/>
<path d="M527 865L561.11 844.1A40 40 0 0 1 567 865" fill="none" stroke="#1c1c1c" stroke-width="1.25"/>
<line x1="525.8" y1="864" x2="525.8" y2="870.5" stroke="#1c1c1c" stroke-width="1.25" stroke-linecap="butt"/>
<line x1="578.25" y1="864" x2="578.25" y2="870.5" stroke="#1c1c1c" stroke-width="1.25" stroke-linecap="butt"/>
<line x1="443.75" y1="922" x2="515" y2="922" stroke="#1c1c1c" stroke-width="1.8" stroke-linecap="butt"/>
<line x1="660.5" y1="922" x2="720.5" y2="922" stroke="#1c1c1c" stroke-width="1.8" stroke-linecap="butt"/>
<line x1="216.25" y1="73" x2="681" y2="73" stroke="#1c1c1c" stroke-width="1.8" stroke-linecap="butt"/>
<polyline points="681,73 681,145.75 722.5,145.75 722.5,73 765.75,73" fill="none" stroke="#1c1c1c" stroke-width="1.8" stroke-linejoin="miter"/>
<line x1="456.5" y1="47.5" x2="456.5" y2="234.5" stroke="#1c1c1c" stroke-width="1.8" stroke-linecap="butt"/>
<line x1="467" y1="56" x2="467" y2="219" stroke="#1c1c1c" stroke-width="1.8" stroke-linecap="butt"/>
<polyline points="467,219 488,219 488,227.5 467,227.5 467,234.5 456.5,234.5" fill="none" stroke="#1c1c1c" stroke-width="1.8" stroke-linejoin="miter"/>
<line x1="562.5" y1="56" x2="562.5" y2="219" stroke="#1c1c1c" stroke-width="1.8" stroke-linecap="butt"/>
<line x1="572" y1="47.5" x2="572" y2="228.5" stroke="#1c1c1c" stroke-width="1.8" stroke-linecap="butt"/>
<polyline points="562.5,219 552.5,219 552.5,228.5 572,228.5" fill="none" stroke="#1c1c1c" stroke-width="1.8" stroke-linejoin="miter"/>
<line x1="216.25" y1="329" x2="586.25" y2="329" stroke="#1c1c1c" stroke-width="1.5" stroke-linecap="butt"/>
<line x1="216.25" y1="338.5" x2="576.25" y2="338.5" stroke="#1c1c1c" stroke-width="1.5" stroke-linecap="butt"/>
<polyline points="586.25,329 586.25,426 576.25,426 576.25,338.5" fill="none" stroke="#1c1c1c" stroke-width="1.8" stroke-linejoin="miter"/>
<polyline points="456.25,338.5 456.25,307.5 466.75,307.5 466.75,338.5" fill="none" stroke="#1c1c1c" stroke-width="1.5" stroke-linejoin="miter"/>
<polyline points="576.25,580.75 576.25,499.25 586.25,499.25 586.25,580.75" fill="none" stroke="#1c1c1c" stroke-width="1.8" stroke-linejoin="miter"/>
<line x1="681.6" y1="373.75" x2="681.6" y2="826.25" stroke="#1c1c1c" stroke-width="1.5" stroke-linecap="butt"/>
<polyline points="682,581.25 668.75,581.25 668.75,590.75 681,590.75" fill="#fff" stroke="#1c1c1c" stroke-width="1.8" stroke-linejoin="miter"/>
<polyline points="681,310 681,229.5 870,229.5" fill="none" stroke="#1c1c1c" stroke-width="1.8" stroke-linejoin="miter"/>
<line x1="870" y1="259.5" x2="870" y2="460.5" stroke="#1c1c1c" stroke-width="1.8" stroke-linecap="butt"/>
<polyline points="681,310 722.5,310 722.5,259.5" fill="none" stroke="#1c1c1c" stroke-width="1.8" stroke-linejoin="miter"/>
<line x1="722.5" y1="260" x2="722.5" y2="310" stroke="#1c1c1c" stroke-width="1.8" stroke-linecap="butt"/>
<line x1="722.5" y1="259.5" x2="870" y2="259.5" stroke="#1c1c1c" stroke-width="1.8" stroke-linecap="butt"/>
<line x1="723" y1="259.5" x2="771" y2="259.5" stroke="#1c1c1c" stroke-width="2" stroke-linecap="butt"/>
<line x1="849.5" y1="259.5" x2="849.5" y2="439" stroke="#1c1c1c" stroke-width="1.8" stroke-linecap="butt"/>
<line x1="849.5" y1="301.25" x2="870" y2="301.25" stroke="#1c1c1c" stroke-width="1.25" stroke-linecap="butt"/>
<line x1="722" y1="438.75" x2="850" y2="438.75" stroke="#1c1c1c" stroke-width="2" stroke-linecap="butt"/>
<line x1="722.5" y1="373.75" x2="722.5" y2="438.75" stroke="#1c1c1c" stroke-width="1.8" stroke-linecap="butt"/>
<line x1="681" y1="373.75" x2="722.5" y2="373.75" stroke="#1c1c1c" stroke-width="1.8" stroke-linecap="butt"/>
<polyline points="712,229.5 712,258.75 805,258.75" fill="none" stroke="#1c1c1c" stroke-width="1.25" stroke-linejoin="miter"/>
<path d="M456.25 307.5L419.5 244.5A73 73 0 0 1 456.25 234.5" fill="none" stroke="#1c1c1c" stroke-width="1.4"/>
<path d="M488 227.5L542.5 261A64.25 64.25 0 0 0 552.5 227.5" fill="none" stroke="#1c1c1c" stroke-width="1.4"/>
<path d="M681 310L648.75 365A63.75 63.75 0 0 0 681 373.75" fill="none" stroke="#1c1c1c" stroke-width="1.4"/>
<path d="M576.25 425.75L538.75 488.75A73.4 73.4 0 0 0 576.25 499.25" fill="none" stroke="#1c1c1c" stroke-width="1.4"/>
<path d="M668.75 590.5L605.75 628.75A73.5 73.5 0 0 1 595.5 590.5" fill="none" stroke="#1c1c1c" stroke-width="1.4"/>
<path d="M722.5 147.5A77 77 0 0 1 799.5 224.5" fill="none" stroke="#1c1c1c" stroke-width="1.4"/>
<polyline points="723,222 799.5,222 799.5,225.2 723,225.2" fill="none" stroke="#1c1c1c" stroke-width="1.25" stroke-linejoin="miter"/>
<rect x="714.5" y="146" width="9.25" height="4.5" rx="0" fill="#fff" stroke="#1c1c1c" stroke-width="1"/>
<rect x="714.5" y="224" width="9.25" height="4.75" rx="0" fill="#fff" stroke="#1c1c1c" stroke-width="1"/>
<rect x="244.5" y="52.3" width="12" height="11.3" rx="0" fill="none" stroke="#1c1c1c" stroke-width="1.5"/>
<line x1="244.5" y1="52.5" x2="255" y2="63.75" stroke="#1c1c1c" stroke-width="1.25" stroke-linecap="butt"/>
<line x1="244.5" y1="63.75" x2="255" y2="52.5" stroke="#1c1c1c" stroke-width="1.25" stroke-linecap="butt"/>
<rect x="690.75" y="488" width="12.5" height="12" rx="0" fill="#fff" stroke="#1c1c1c" stroke-width="1.4"/>
<line x1="690.75" y1="488" x2="703.25" y2="500" stroke="#1c1c1c" stroke-width="1.2" stroke-linecap="butt"/>
<polyline points="373.5,73 373.5,52 385.5,52 385.5,74.5" fill="none" stroke="#1c1c1c" stroke-width="1.25" stroke-linejoin="miter"/>
<line x1="373.5" y1="63.5" x2="380" y2="63.5" stroke="#1c1c1c" stroke-width="1.25" stroke-linecap="butt"/>
<line x1="380" y1="60.5" x2="380" y2="63.5" stroke="#1c1c1c" stroke-width="0.9" stroke-linecap="butt"/>
<polyline points="477,73 477,52 488.5,52 488.5,74.5" fill="none" stroke="#1c1c1c" stroke-width="1.25" stroke-linejoin="miter"/>
<line x1="477" y1="63.5" x2="483.5" y2="63.5" stroke="#1c1c1c" stroke-width="1.25" stroke-linecap="butt"/>
<line x1="483.5" y1="60.5" x2="483.5" y2="63.5" stroke="#1c1c1c" stroke-width="0.9" stroke-linecap="butt"/>
<polyline points="663.75,63.25 663.75,43.5 675,43.5 675,64.75" fill="none" stroke="#1c1c1c" stroke-width="1.25" stroke-linejoin="miter"/>
<line x1="663.75" y1="54.38" x2="670.25" y2="54.38" stroke="#1c1c1c" stroke-width="1.25" stroke-linecap="butt"/>
<line x1="670.25" y1="51.38" x2="670.25" y2="54.38" stroke="#1c1c1c" stroke-width="0.9" stroke-linecap="butt"/>
<polyline points="804.5,259.5 804.5,238.75 815.5,238.75 815.5,261" fill="none" stroke="#1c1c1c" stroke-width="1.25" stroke-linejoin="miter"/>
<line x1="804.5" y1="250.12" x2="811" y2="250.12" stroke="#1c1c1c" stroke-width="1.25" stroke-linecap="butt"/>
<line x1="811" y1="247.12" x2="811" y2="250.12" stroke="#1c1c1c" stroke-width="0.9" stroke-linecap="butt"/>
<rect x="373.2" y="75.6" width="68.8" height="40.6" rx="5" fill="#fff" stroke="#1c1c1c" stroke-width="1.5"/>
<rect x="376.2" y="78.7" width="63.2" height="34.4" rx="2.5" fill="none" stroke="#1c1c1c" stroke-width="1.4"/>
<line x1="408.5" y1="78.7" x2="408.5" y2="113.1" stroke="#1c1c1c" stroke-width="1.5" stroke-linecap="butt"/>
<circle cx="393" cy="88" r="3.6" fill="none" stroke="#1c1c1c" stroke-width="1.1"/>
<line x1="410" y1="80.8" x2="438" y2="80.8" stroke="#1c1c1c" stroke-width="1.15" stroke-linecap="butt"/>
<line x1="410" y1="83.7" x2="438" y2="83.7" stroke="#1c1c1c" stroke-width="1.15" stroke-linecap="butt"/>
<line x1="410" y1="86.6" x2="438" y2="86.6" stroke="#1c1c1c" stroke-width="1.15" stroke-linecap="butt"/>
<line x1="410" y1="89.5" x2="438" y2="89.5" stroke="#1c1c1c" stroke-width="1.15" stroke-linecap="butt"/>
<line x1="410" y1="92.4" x2="438" y2="92.4" stroke="#1c1c1c" stroke-width="1.15" stroke-linecap="butt"/>
<line x1="410" y1="95.3" x2="438" y2="95.3" stroke="#1c1c1c" stroke-width="1.15" stroke-linecap="butt"/>
<line x1="410" y1="101.9" x2="438" y2="101.9" stroke="#1c1c1c" stroke-width="1.15" stroke-linecap="butt"/>
<line x1="410" y1="105" x2="438" y2="105" stroke="#1c1c1c" stroke-width="1.15" stroke-linecap="butt"/>
<line x1="410" y1="108.1" x2="438" y2="108.1" stroke="#1c1c1c" stroke-width="1.15" stroke-linecap="butt"/>
<line x1="410" y1="111.1" x2="438" y2="111.1" stroke="#1c1c1c" stroke-width="1.15" stroke-linecap="butt"/>
<line x1="402.5" y1="74.3" x2="413" y2="74.3" stroke="#1c1c1c" stroke-width="2.4" stroke-linecap="butt"/>
<line x1="405.5" y1="74.3" x2="410" y2="74.3" stroke="#fff" stroke-width="1.6" stroke-linecap="butt"/>
<ellipse cx="511.8" cy="107.6" rx="14.6" ry="19.6" fill="#fff" stroke="#1c1c1c" stroke-width="1.9"/>
<path d="M499 76.3L525 76.3Q529.5 76.3 530.3 81.5Q531 86.5 528.3 90L495.8 90Q493 86.5 493.7 81.5Q494.5 76.3 499 76.3Z" fill="#fff" stroke="#1c1c1c" stroke-width="1.4"/>
<line x1="500.5" y1="76.5" x2="499.3" y2="90" stroke="#1c1c1c" stroke-width="1.3" stroke-linecap="butt"/>
<line x1="523.5" y1="76.5" x2="524.7" y2="90" stroke="#1c1c1c" stroke-width="1.3" stroke-linecap="butt"/>
<rect x="507" y="72.6" width="10" height="4" rx="0" fill="#111" stroke="#1c1c1c" stroke-width="0.5"/>
<circle cx="512.2" cy="82.4" r="1.5" fill="#222"/>
<rect x="466.9" y="151.9" width="26.2" height="39" rx="1.5" fill="#fff" stroke="#1c1c1c" stroke-width="1.6"/>
<rect x="476.6" y="154.7" width="13.7" height="33.4" rx="1.8" fill="none" stroke="#1c1c1c" stroke-width="1.3"/>
<line x1="491.6" y1="153" x2="491.6" y2="190" stroke="#1c1c1c" stroke-width="0.8" stroke-linecap="butt"/>
<line x1="471.8" y1="171.6" x2="482" y2="171.6" stroke="#1c1c1c" stroke-width="2.8" stroke-linecap="round"/>
<circle cx="473" cy="171.6" r="0.8" fill="#fff"/>
<rect x="723.5" y="261.25" width="47.75" height="39.35" rx="0" fill="none" stroke="#1c1c1c" stroke-width="1.25"/>
<ellipse cx="816" cy="283.6" rx="19" ry="14.3" fill="#fff" stroke="#1c1c1c" stroke-width="1.8"/>
<path d="M848.8 266.3L848.8 300.8L838 300.8Q833.2 300.8 833.2 296L833.2 271Q833.2 266.3 838 266.3Z" fill="#fff" stroke="#1c1c1c" stroke-width="1.5"/>
<line x1="833.2" y1="272.6" x2="848.8" y2="272.2" stroke="#1c1c1c" stroke-width="1.1" stroke-linecap="butt"/>
<line x1="833.2" y1="295" x2="848.8" y2="295.5" stroke="#1c1c1c" stroke-width="1.1" stroke-linecap="butt"/>
<circle cx="842.2" cy="283.5" r="1.5" fill="#222"/>
<rect x="813" y="305" width="35.75" height="60.5" rx="0" fill="#fff" stroke="#1c1c1c" stroke-width="1.3"/>
<rect x="816.25" y="308" width="23.25" height="55" rx="1.5" fill="none" stroke="#1c1c1c" stroke-width="1"/>
<line x1="842.6" y1="305" x2="842.6" y2="365.5" stroke="#1c1c1c" stroke-width="1.25" stroke-linecap="butt"/>
<line x1="831.5" y1="335" x2="844.5" y2="335" stroke="#222" stroke-width="2.2" stroke-linecap="round"/>
<circle cx="843" cy="335" r="2.2" fill="#fff" stroke="#222" stroke-width="1"/>
<line x1="834" y1="335" x2="836.5" y2="335" stroke="#fff" stroke-width="0.9" stroke-linecap="butt"/>
<rect x="722.5" y="375" width="127" height="64" rx="0" fill="none" stroke="#1c1c1c" stroke-width="1.2"/>
<path d="M753.5 379.8L836 379.8Q845.7 379.8 845.7 389.5L845.7 424.3Q845.7 434 836 434L753.5 434A27.1 27.1 0 0 1 753.5 379.8Z" fill="none" stroke="#1c1c1c" stroke-width="1.2"/>
<circle cx="830.75" cy="406.75" r="2" fill="#fff" stroke="#222" stroke-width="0.9"/>
<line x1="838" y1="406.75" x2="848.5" y2="406.75" stroke="#222" stroke-width="2.4" stroke-linecap="round"/>
<circle cx="846.5" cy="406.75" r="2.1" fill="#fff" stroke="#222" stroke-width="1"/>
<rect x="573.75" y="241.25" width="92.75" height="74.95" rx="0" fill="none" stroke="#1c1c1c" stroke-width="1.6"/>
<line x1="618" y1="241.25" x2="618" y2="316.2" stroke="#1c1c1c" stroke-width="1.6" stroke-linecap="butt"/>
<line x1="618" y1="266.25" x2="666.5" y2="266.25" stroke="#1c1c1c" stroke-width="1.5" stroke-linecap="butt"/>
<line x1="618" y1="291.25" x2="666.5" y2="291.25" stroke="#1c1c1c" stroke-width="1.5" stroke-linecap="butt"/>
<line x1="580" y1="279.3" x2="611.3" y2="279.3" stroke="#1c1c1c" stroke-width="1.4" stroke-linecap="butt"/>
<line x1="216.25" y1="98.6" x2="684" y2="98.6" stroke="#1c1c1c" stroke-width="1.4" stroke-linecap="butt"/>
<line x1="213.05" y1="101.8" x2="219.45" y2="95.4" stroke="#1c1c1c" stroke-width="1.2" stroke-linecap="butt"/>
<line x1="214.65" y1="97" x2="217.85" y2="100.2" stroke="#1c1c1c" stroke-width="0.9" stroke-linecap="butt"/>
<line x1="453.3" y1="101.8" x2="459.7" y2="95.4" stroke="#1c1c1c" stroke-width="1.2" stroke-linecap="butt"/>
<line x1="454.9" y1="97" x2="458.1" y2="100.2" stroke="#1c1c1c" stroke-width="0.9" stroke-linecap="butt"/>
<line x1="463.8" y1="101.8" x2="470.2" y2="95.4" stroke="#1c1c1c" stroke-width="1.2" stroke-linecap="butt"/>
<line x1="465.4" y1="97" x2="468.6" y2="100.2" stroke="#1c1c1c" stroke-width="0.9" stroke-linecap="butt"/>
<line x1="559.3" y1="101.8" x2="565.7" y2="95.4" stroke="#1c1c1c" stroke-width="1.2" stroke-linecap="butt"/>
<line x1="560.9" y1="97" x2="564.1" y2="100.2" stroke="#1c1c1c" stroke-width="0.9" stroke-linecap="butt"/>
<line x1="568.8" y1="101.8" x2="575.2" y2="95.4" stroke="#1c1c1c" stroke-width="1.2" stroke-linecap="butt"/>
<line x1="570.4" y1="97" x2="573.6" y2="100.2" stroke="#1c1c1c" stroke-width="0.9" stroke-linecap="butt"/>
<line x1="677.8" y1="101.8" x2="684.2" y2="95.4" stroke="#1c1c1c" stroke-width="1.2" stroke-linecap="butt"/>
<line x1="679.4" y1="97" x2="682.6" y2="100.2" stroke="#1c1c1c" stroke-width="0.9" stroke-linecap="butt"/>
<line x1="242.5" y1="71" x2="242.5" y2="580.75" stroke="#1c1c1c" stroke-width="1.4" stroke-linecap="butt"/>
<line x1="239.3" y1="76.2" x2="245.7" y2="69.8" stroke="#1c1c1c" stroke-width="1.2" stroke-linecap="butt"/>
<line x1="240.9" y1="71.4" x2="244.1" y2="74.6" stroke="#1c1c1c" stroke-width="0.9" stroke-linecap="butt"/>
<line x1="239.3" y1="332.2" x2="245.7" y2="325.8" stroke="#1c1c1c" stroke-width="1.2" stroke-linecap="butt"/>
<line x1="240.9" y1="327.4" x2="244.1" y2="330.6" stroke="#1c1c1c" stroke-width="0.9" stroke-linecap="butt"/>
<line x1="239.3" y1="341.7" x2="245.7" y2="335.3" stroke="#1c1c1c" stroke-width="1.2" stroke-linecap="butt"/>
<line x1="240.9" y1="336.9" x2="244.1" y2="340.1" stroke="#1c1c1c" stroke-width="0.9" stroke-linecap="butt"/>
<line x1="239.3" y1="583.95" x2="245.7" y2="577.55" stroke="#1c1c1c" stroke-width="1.2" stroke-linecap="butt"/>
<line x1="240.9" y1="579.15" x2="244.1" y2="582.35" stroke="#1c1c1c" stroke-width="0.9" stroke-linecap="butt"/>
<line x1="260.75" y1="42.5" x2="260.75" y2="76" stroke="#1c1c1c" stroke-width="1" stroke-linecap="butt"/>
<line x1="240.3" y1="44.7" x2="244.7" y2="40.3" stroke="#1c1c1c" stroke-width="1.2" stroke-linecap="butt"/>
<line x1="240.9" y1="40.9" x2="244.1" y2="44.1" stroke="#1c1c1c" stroke-width="0.9" stroke-linecap="butt"/>
<line x1="258.55" y1="44.7" x2="262.95" y2="40.3" stroke="#1c1c1c" stroke-width="1.2" stroke-linecap="butt"/>
<line x1="259.15" y1="40.9" x2="262.35" y2="44.1" stroke="#1c1c1c" stroke-width="0.9" stroke-linecap="butt"/>
<line x1="257.55" y1="76.2" x2="263.95" y2="69.8" stroke="#1c1c1c" stroke-width="1.2" stroke-linecap="butt"/>
<line x1="259.15" y1="71.4" x2="262.35" y2="74.6" stroke="#1c1c1c" stroke-width="0.9" stroke-linecap="butt"/>
<line x1="260.75" y1="326" x2="260.75" y2="342" stroke="#1c1c1c" stroke-width="1.4" stroke-linecap="butt"/>
<line x1="257.55" y1="332.2" x2="263.95" y2="325.8" stroke="#1c1c1c" stroke-width="1.2" stroke-linecap="butt"/>
<line x1="259.15" y1="327.4" x2="262.35" y2="330.6" stroke="#1c1c1c" stroke-width="0.9" stroke-linecap="butt"/>
<line x1="257.55" y1="341.7" x2="263.95" y2="335.3" stroke="#1c1c1c" stroke-width="1.2" stroke-linecap="butt"/>
<line x1="259.15" y1="336.9" x2="262.35" y2="340.1" stroke="#1c1c1c" stroke-width="0.9" stroke-linecap="butt"/>
<line x1="226" y1="580.5" x2="250" y2="580.5" stroke="#1c1c1c" stroke-width="1.8" stroke-linecap="butt"/>
<line x1="268.75" y1="591" x2="305" y2="591" stroke="#1c1c1c" stroke-width="1.6" stroke-linecap="butt"/>
<line x1="597" y1="68.75" x2="597" y2="222.5" stroke="#1c1c1c" stroke-width="1.4" stroke-linecap="butt"/>
<line x1="593.8" y1="76.2" x2="600.2" y2="69.8" stroke="#1c1c1c" stroke-width="1.2" stroke-linecap="butt"/>
<line x1="595.4" y1="71.4" x2="598.6" y2="74.6" stroke="#1c1c1c" stroke-width="0.9" stroke-linecap="butt"/>
<line x1="593.8" y1="221.95" x2="600.2" y2="215.55" stroke="#1c1c1c" stroke-width="1.2" stroke-linecap="butt"/>
<line x1="595.4" y1="217.15" x2="598.6" y2="220.35" stroke="#1c1c1c" stroke-width="0.9" stroke-linecap="butt"/>
<line x1="572" y1="218.75" x2="601" y2="218.75" stroke="#1c1c1c" stroke-width="1.4" stroke-linecap="butt"/>
<line x1="216.25" y1="543.25" x2="683" y2="543.25" stroke="#1c1c1c" stroke-width="1.4" stroke-linecap="butt"/>
<line x1="213.05" y1="546.45" x2="219.45" y2="540.05" stroke="#1c1c1c" stroke-width="1.2" stroke-linecap="butt"/>
<line x1="214.65" y1="541.65" x2="217.85" y2="544.85" stroke="#1c1c1c" stroke-width="0.9" stroke-linecap="butt"/>
<line x1="573.05" y1="546.45" x2="579.45" y2="540.05" stroke="#1c1c1c" stroke-width="1.2" stroke-linecap="butt"/>
<line x1="574.65" y1="541.65" x2="577.85" y2="544.85" stroke="#1c1c1c" stroke-width="0.9" stroke-linecap="butt"/>
<line x1="583.05" y1="546.45" x2="589.45" y2="540.05" stroke="#1c1c1c" stroke-width="1.2" stroke-linecap="butt"/>
<line x1="584.65" y1="541.65" x2="587.85" y2="544.85" stroke="#1c1c1c" stroke-width="0.9" stroke-linecap="butt"/>
<line x1="678.8" y1="546.45" x2="685.2" y2="540.05" stroke="#1c1c1c" stroke-width="1.2" stroke-linecap="butt"/>
<line x1="680.4" y1="541.65" x2="683.6" y2="544.85" stroke="#1c1c1c" stroke-width="0.9" stroke-linecap="butt"/>
<line x1="305" y1="585" x2="305" y2="831" stroke="#1c1c1c" stroke-width="1.4" stroke-linecap="butt"/>
<line x1="301.8" y1="594.2" x2="308.2" y2="587.8" stroke="#1c1c1c" stroke-width="1.2" stroke-linecap="butt"/>
<line x1="303.4" y1="589.4" x2="306.6" y2="592.6" stroke="#1c1c1c" stroke-width="0.9" stroke-linecap="butt"/>
<line x1="301.8" y1="831.95" x2="308.2" y2="825.55" stroke="#1c1c1c" stroke-width="1.2" stroke-linecap="butt"/>
<line x1="303.4" y1="827.15" x2="306.6" y2="830.35" stroke="#1c1c1c" stroke-width="0.9" stroke-linecap="butt"/>
<line x1="278.75" y1="790" x2="682" y2="790" stroke="#1c1c1c" stroke-width="1.4" stroke-linecap="butt"/>
<line x1="275.55" y1="793.2" x2="281.95" y2="786.8" stroke="#1c1c1c" stroke-width="1.2" stroke-linecap="butt"/>
<line x1="277.15" y1="788.4" x2="280.35" y2="791.6" stroke="#1c1c1c" stroke-width="0.9" stroke-linecap="butt"/>
<line x1="678.8" y1="793.2" x2="685.2" y2="786.8" stroke="#1c1c1c" stroke-width="1.2" stroke-linecap="butt"/>
<line x1="680.4" y1="788.4" x2="683.6" y2="791.6" stroke="#1c1c1c" stroke-width="0.9" stroke-linecap="butt"/>
<line x1="323.75" y1="576" x2="323.75" y2="595" stroke="#1c1c1c" stroke-width="1.4" stroke-linecap="butt"/>
<line x1="320.55" y1="583.95" x2="326.95" y2="577.55" stroke="#1c1c1c" stroke-width="1.2" stroke-linecap="butt"/>
<line x1="322.15" y1="579.15" x2="325.35" y2="582.35" stroke="#1c1c1c" stroke-width="0.9" stroke-linecap="butt"/>
<line x1="320.55" y1="593.7" x2="326.95" y2="587.3" stroke="#1c1c1c" stroke-width="1.2" stroke-linecap="butt"/>
<line x1="322.15" y1="588.9" x2="325.35" y2="592.1" stroke="#1c1c1c" stroke-width="0.9" stroke-linecap="butt"/>
<line x1="677.5" y1="727.5" x2="720.5" y2="727.5" stroke="#1c1c1c" stroke-width="1.4" stroke-linecap="butt"/>
<line x1="678.8" y1="730.7" x2="685.2" y2="724.3" stroke="#1c1c1c" stroke-width="1.2" stroke-linecap="butt"/>
<line x1="680.4" y1="725.9" x2="683.6" y2="729.1" stroke="#1c1c1c" stroke-width="0.9" stroke-linecap="butt"/>
<line x1="719.5" y1="273" x2="868" y2="273" stroke="#1c1c1c" stroke-width="1.4" stroke-linecap="butt"/>
<line x1="719.3" y1="276.2" x2="725.7" y2="269.8" stroke="#1c1c1c" stroke-width="1.2" stroke-linecap="butt"/>
<line x1="720.9" y1="271.4" x2="724.1" y2="274.6" stroke="#1c1c1c" stroke-width="0.9" stroke-linecap="butt"/>
<line x1="846.3" y1="276.2" x2="852.7" y2="269.8" stroke="#1c1c1c" stroke-width="1.2" stroke-linecap="butt"/>
<line x1="847.9" y1="271.4" x2="851.1" y2="274.6" stroke="#1c1c1c" stroke-width="0.9" stroke-linecap="butt"/>
<line x1="865.3" y1="275.2" x2="869.7" y2="270.8" stroke="#1c1c1c" stroke-width="1.2" stroke-linecap="butt"/>
<line x1="865.9" y1="271.4" x2="869.1" y2="274.6" stroke="#1c1c1c" stroke-width="0.9" stroke-linecap="butt"/>
<line x1="737.5" y1="257.5" x2="737.5" y2="458" stroke="#1c1c1c" stroke-width="1.4" stroke-linecap="butt"/>
<line x1="734.3" y1="262.7" x2="740.7" y2="256.3" stroke="#1c1c1c" stroke-width="1.2" stroke-linecap="butt"/>
<line x1="735.9" y1="257.9" x2="739.1" y2="261.1" stroke="#1c1c1c" stroke-width="0.9" stroke-linecap="butt"/>
<line x1="734.3" y1="441.95" x2="740.7" y2="435.55" stroke="#1c1c1c" stroke-width="1.2" stroke-linecap="butt"/>
<line x1="735.9" y1="437.15" x2="739.1" y2="440.35" stroke="#1c1c1c" stroke-width="0.9" stroke-linecap="butt"/>
<line x1="735" y1="459.5" x2="740" y2="454.5" stroke="#1c1c1c" stroke-width="1.2" stroke-linecap="butt"/>
<line x1="735.9" y1="455.4" x2="739.1" y2="458.6" stroke="#1c1c1c" stroke-width="0.9" stroke-linecap="butt"/>
<line x1="755.5" y1="436" x2="755.5" y2="460" stroke="#1c1c1c" stroke-width="1.4" stroke-linecap="butt"/>
<line x1="752.3" y1="441.95" x2="758.7" y2="435.55" stroke="#1c1c1c" stroke-width="1.2" stroke-linecap="butt"/>
<line x1="753.9" y1="437.15" x2="757.1" y2="440.35" stroke="#1c1c1c" stroke-width="0.9" stroke-linecap="butt"/>
<line x1="753" y1="460.5" x2="758" y2="455.5" stroke="#1c1c1c" stroke-width="1.2" stroke-linecap="butt"/>
<line x1="753.9" y1="456.4" x2="757.1" y2="459.6" stroke="#1c1c1c" stroke-width="0.9" stroke-linecap="butt"/>
<text x="126" y="204" font-size="15.3" fill="#222" text-anchor="start" textLength="29.5" lengthAdjust="spacingAndGlyphs" stroke="#222" stroke-width="0.28">1,12</text>
<text x="128.5" y="477.5" font-size="15.3" fill="#222" text-anchor="start" textLength="29.5" lengthAdjust="spacingAndGlyphs" stroke="#222" stroke-width="0.28">1,12</text>
<text x="165" y="733.25" font-size="15.3" fill="#222" text-anchor="start" textLength="30" lengthAdjust="spacingAndGlyphs" stroke="#222" stroke-width="0.28">2,52</text>
<text x="340" y="210.5" font-size="14.8" fill="#222" text-anchor="start" textLength="43.5" lengthAdjust="spacingAndGlyphs" stroke="#222" stroke-width="0.28">Кухня</text>
<text x="346" y="236.75" font-size="15.3" fill="#222" text-anchor="start" textLength="30" lengthAdjust="spacingAndGlyphs" stroke="#222" stroke-width="0.28">9,41</text>
<text x="515" y="190.75" font-size="15.3" fill="#222" text-anchor="start" textLength="30" lengthAdjust="spacingAndGlyphs" stroke="#222" stroke-width="0.28">2,08</text>
<text x="763.5" y="345.5" font-size="15.3" fill="#222" text-anchor="start" textLength="29.5" lengthAdjust="spacingAndGlyphs" stroke="#222" stroke-width="0.28">3,47</text>
<text x="595" y="428.25" font-size="15.3" fill="#222" text-anchor="start" textLength="29.5" lengthAdjust="spacingAndGlyphs" stroke="#222" stroke-width="0.28">9,54</text>
<text x="327" y="462" font-size="14.8" fill="#222" text-anchor="start" textLength="118.5" lengthAdjust="spacingAndGlyphs" stroke="#222" stroke-width="0.28">Жилая комната</text>
<text x="368" y="490" font-size="15.3" fill="#222" text-anchor="start" textLength="37.5" lengthAdjust="spacingAndGlyphs" stroke="#222" stroke-width="0.28">13,45</text>
<text x="410" y="732" font-size="14.8" fill="#222" text-anchor="start" textLength="117.5" lengthAdjust="spacingAndGlyphs" stroke="#222" stroke-width="0.28">Жилая комната</text>
<text x="450.5" y="760" font-size="15.3" fill="#222" text-anchor="start" textLength="38.5" lengthAdjust="spacingAndGlyphs" stroke="#222" stroke-width="0.28">14,68</text>
<text x="355" y="908" font-size="15.3" fill="#222" text-anchor="start" textLength="30" lengthAdjust="spacingAndGlyphs" stroke="#222" stroke-width="0.28">0,82</text>
<text x="563.5" y="910" font-size="15.3" fill="#222" text-anchor="start" textLength="29.5" lengthAdjust="spacingAndGlyphs" stroke="#222" stroke-width="0.28">0,82</text>
<text x="595" y="272" font-size="15.5" fill="#222" text-anchor="start" textLength="18.5" lengthAdjust="spacingAndGlyphs" stroke="#222" stroke-width="0.28">2К</text>
<text x="627" y="260.75" font-size="15.3" fill="#222" text-anchor="start" textLength="38" lengthAdjust="spacingAndGlyphs" stroke="#222" stroke-width="0.28">28,13</text>
<text x="627" y="287.5" font-size="15.3" fill="#222" text-anchor="start" textLength="38" lengthAdjust="spacingAndGlyphs" stroke="#222" stroke-width="0.28">52,63</text>
<text x="627" y="312.5" font-size="15.3" fill="#222" text-anchor="start" textLength="38" lengthAdjust="spacingAndGlyphs" stroke="#222" stroke-width="0.28">55,15</text>
<text x="310" y="96" font-size="12.8" fill="#333" text-anchor="start" textLength="31.5" lengthAdjust="spacingAndGlyphs">3 010</text>
<text x="435" y="95.6" font-size="12.8" fill="#333" text-anchor="start" textLength="18.5" lengthAdjust="spacingAndGlyphs">120</text>
<text x="497" y="96.5" font-size="12.8" fill="#333" text-anchor="start" textLength="31" lengthAdjust="spacingAndGlyphs">1 200</text>
<text x="611" y="96" font-size="12.8" fill="#333" text-anchor="start" textLength="31.5" lengthAdjust="spacingAndGlyphs">1 380</text>
<text x="369.5" y="540.5" font-size="12.8" fill="#333" text-anchor="start" textLength="31.5" lengthAdjust="spacingAndGlyphs">4 510</text>
<text x="553" y="540.5" font-size="12.8" fill="#333" text-anchor="start" textLength="20" lengthAdjust="spacingAndGlyphs">120</text>
<text x="618.75" y="540.5" font-size="12.8" fill="#333" text-anchor="start" textLength="31" lengthAdjust="spacingAndGlyphs">1 200</text>
<text x="465" y="787" font-size="12.8" fill="#333" text-anchor="start" textLength="31" lengthAdjust="spacingAndGlyphs">5 050</text>
<text x="691.5" y="725" font-size="12.8" fill="#333" text-anchor="start" textLength="20" lengthAdjust="spacingAndGlyphs">510</text>
<text x="772" y="270.6" font-size="12.8" fill="#333" text-anchor="start" textLength="29.5" lengthAdjust="spacingAndGlyphs">1 600</text>
<text transform="translate(240.5 216.5) rotate(-90)" font-size="12.8" fill="#333" textLength="31.5" lengthAdjust="spacingAndGlyphs">3 210</text>
<text transform="translate(595 161) rotate(-90)" font-size="12.8" fill="#333" textLength="31" lengthAdjust="spacingAndGlyphs">1 830</text>
<text transform="translate(240.8 475.5) rotate(-90)" font-size="12.8" fill="#333" textLength="31.5" lengthAdjust="spacingAndGlyphs">3 050</text>
<text transform="translate(258.5 360.5) rotate(-90)" font-size="12.8" fill="#333" textLength="19" lengthAdjust="spacingAndGlyphs">120</text>
<text transform="translate(319.8 613) rotate(-90)" font-size="12.8" fill="#333" textLength="19" lengthAdjust="spacingAndGlyphs">120</text>
<text transform="translate(303.3 725.5) rotate(-90)" font-size="12.8" fill="#333" textLength="31.5" lengthAdjust="spacingAndGlyphs">2 970</text>
<text transform="translate(735.5 365.5) rotate(-90)" font-size="12.8" fill="#333" textLength="31.5" lengthAdjust="spacingAndGlyphs">2 270</text>
<text transform="translate(258 67.5) rotate(-90)" font-size="12" fill="#333" textLength="20" lengthAdjust="spacingAndGlyphs">300</text>
</svg>
</body></html>
